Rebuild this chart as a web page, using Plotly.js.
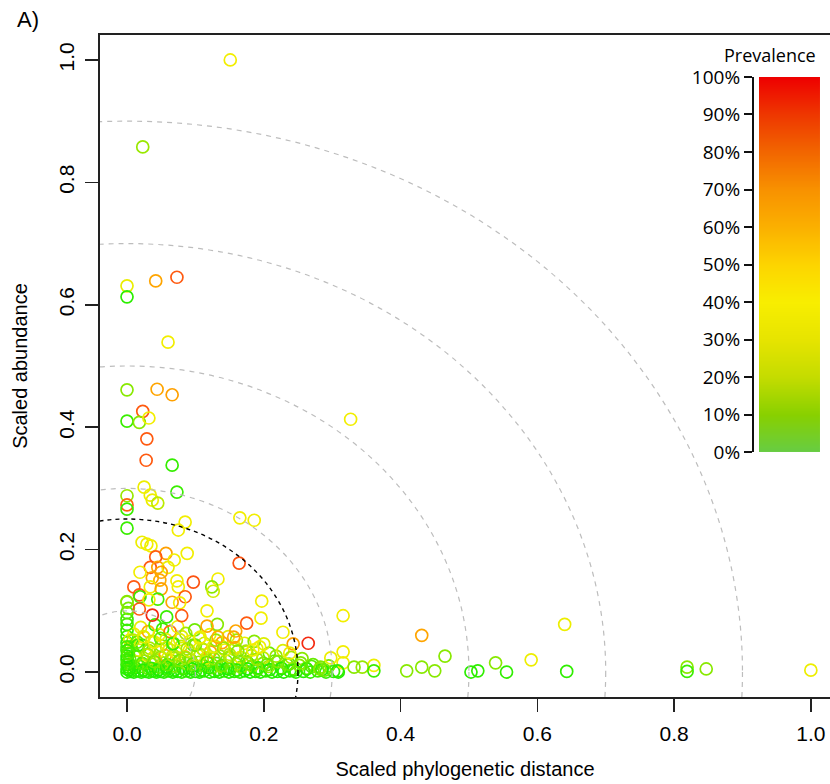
<!DOCTYPE html>
<html>
<head>
<meta charset="utf-8">
<script src="https://cdn.plot.ly/plotly-3.0.1.min.js"></script>
<style>html,body{margin:0;padding:0;background:#fff;}#chart{width:830px;height:784px;}</style>
</head>
<body>
<div id="chart"></div>
<script>
// ---- Data: scaled phylogenetic distance, scaled abundance, prevalence % ----
// dense cluster near the origin
const clusterDist = [
0.000,0.005,0.010,0.016,0.021,0.027,0.032,0.038,0.043,0.049,0.054,0.061,0.067,0.074,0.080,0.087,0.093,0.100,0.106,0.113,0.121,0.128,0.135,0.142,0.149,0.157,0.165,0.172,0.180,0.188,0.195,0.203,0.212,0.220,0.229,0.238,0.247,0.258,0.268,0.279,0.291,0.302,0.309,
0.002,0.008,0.014,0.019,0.025,0.031,0.036,0.042,0.047,0.053,0.058,0.064,0.070,0.075,0.081,0.087,0.093,0.099,0.105,0.111,0.118,0.124,0.131,0.138,0.145,0.152,0.160,0.167,0.175,0.183,0.191,0.199,0.207,0.216,0.225,0.234,0.243,0.252,0.262,0.272,0.283,0.295,
0.001,0.006,0.011,0.017,0.022,0.028,0.033,0.039,0.045,0.050,0.056,0.062,0.068,0.073,0.079,0.085,0.091,0.097,0.103,0.110,0.116,0.122,0.129,0.136,0.143,0.150,0.158,0.166,0.174,0.182,0.190,0.199,0.208,0.218,0.228,0.240,0.256,
0.000,0.000,0.000,0.004,0.010,0.015,0.020,0.025,0.031,0.036,0.041,0.047,0.052,0.057,0.063,0.068,0.074,0.080,0.086,0.092,0.099,0.106,0.113,0.121,0.130,0.139,0.148,0.160,0.172,0.186,0.200,
0.000,0.000,0.000,0.000
];
const clusterAbund = [
0.000,0.001,0.000,0.002,0.000,0.001,0.000,0.002,0.000,0.001,0.000,0.002,0.000,0.001,0.000,0.002,0.000,0.001,0.000,0.002,0.000,0.001,0.000,0.002,0.000,0.001,0.000,0.002,0.000,0.001,0.000,0.002,0.000,0.001,0.000,0.002,0.000,0.001,0.000,0.002,0.000,0.001,0.000,
0.012,0.007,0.016,0.009,0.018,0.006,0.013,0.020,0.008,0.015,0.005,0.019,0.010,0.017,0.006,0.014,0.020,0.008,0.016,0.011,0.019,0.007,0.014,0.009,0.018,0.006,0.013,0.008,0.017,0.010,0.005,0.014,0.009,0.018,0.007,0.012,0.005,0.011,0.006,0.012,0.008,0.010,
0.030,0.041,0.026,0.036,0.044,0.028,0.039,0.024,0.033,0.043,0.027,0.037,0.023,0.031,0.042,0.025,0.035,0.044,0.028,0.038,0.023,0.033,0.042,0.026,0.036,0.029,0.040,0.024,0.034,0.027,0.038,0.023,0.031,0.026,0.035,0.024,0.022,
0.048,0.058,0.068,0.052,0.062,0.049,0.073,0.057,0.066,0.050,0.077,0.061,0.070,0.053,0.066,0.047,0.074,0.058,0.063,0.050,0.069,0.055,0.047,0.061,0.052,0.048,0.058,0.052,0.047,0.050,0.046,
0.078,0.086,0.097,0.115
];
const clusterPrev = [
4,5,3,6,4,5,3,6,4,3,5,6,4,3,5,7,4,5,3,6,4,5,3,7,4,5,6,4,3,5,4,6,5,4,3,6,5,4,7,9,8,6,3,
12,15,18,10,20,14,17,22,12,19,9,21,16,13,18,20,15,11,19,14,22,17,12,20,16,13,21,18,15,19,12,17,20,14,18,16,13,19,15,14,17,16,
10,14,25,30,8,35,22,28,38,18,60,32,20,36,26,55,30,15,34,24,30,62,28,20,35,25,58,32,22,18,36,26,15,20,30,22,18,
6,9,7,30,38,14,34,36,58,26,9,36,8,32,75,12,38,30,22,36,15,34,28,36,20,60,32,22,35,18,30,
10,8,12,18
];
// second, denser layer of the cluster
const layerDist = [
0.003,0.012,0.024,0.035,0.046,0.058,0.069,0.082,0.095,0.108,0.119,0.133,0.147,0.161,0.176,0.192,0.209,0.226,0.244,0.263,0.285,
0.004,0.013,0.022,0.030,0.040,0.049,0.059,0.067,0.077,0.086,0.096,0.107,0.117,0.127,0.139,0.150,0.163,0.177,0.190,0.205,0.221,0.237,0.254,0.270,
0.003,0.009,0.016,0.024,0.032,0.040,0.049,0.058,0.067,0.077,0.088,0.100,0.112,0.126,0.141,0.157,0.175,
0.000,0.000,0.000,0.000,0.000,0.000,0.002,0.002,0.002,0.002
];
const layerAbund = [
0.004,0.007,0.003,0.006,0.004,0.008,0.003,0.006,0.005,0.003,0.007,0.004,0.006,0.003,0.005,0.007,0.004,0.006,0.003,0.005,0.004,
0.021,0.026,0.014,0.029,0.017,0.024,0.012,0.027,0.019,0.023,0.013,0.028,0.016,0.022,0.011,0.025,0.018,0.014,0.021,0.012,0.017,0.013,0.015,0.009,
0.037,0.052,0.044,0.058,0.035,0.049,0.055,0.040,0.046,0.053,0.038,0.044,0.036,0.041,0.039,0.037,0.033,
0.005,0.012,0.020,0.026,0.035,0.041,0.008,0.016,0.030,0.104
];
const layerPrev = [
3,5,4,6,3,5,4,7,3,5,4,6,3,5,4,6,5,4,7,6,5,
14,18,12,22,16,20,13,24,17,21,15,25,12,19,14,22,16,13,20,15,18,14,17,12,
12,24,9,30,20,36,14,28,8,33,22,16,26,34,20,28,24,
5,6,8,4,7,10,5,9,12,16
];
// scattered points away from the origin
const sparseDist = [
0.022,0.029,0.035,0.057,0.042,0.088,0.069,0.164,0.034,0.045,0.060,0.019,0.050,0.037,0.073,0.097,0.133,0.048,0.010,0.034,0.050,0.075,0.124,0.126,0.018,0.019,0.045,0.085,0.032,0.066,0.077,0.000,0.018,0.117,0.197,0.196,0.175,0.037,0.080,0.058,0.132,0.117,0.107,0.159,0.156,0.133,0.228,0.243,0.265,0.194,0.184,0.238,0.162,
0.316,0.431,0.316,0.298,0.316,0.361,0.344,0.332,0.361,0.308,0.409,0.431,0.450,0.282,0.289,
0.465,0.503,0.513,0.539,0.555,0.591,0.640,0.643,0.819,0.819,0.847,1.000,
0.151,0.023,0.000,0.000,0.042,0.073,0.060,0.000,0.044,0.066,0.023,0.000,0.018,0.032,0.029,0.028,0.066,0.327,0.025,0.073,0.000,0.034,0.037,0.045,0.000,0.000,0.000,0.165,0.186,0.085,0.075
];
const sparseAbund = [
0.212,0.209,0.206,0.194,0.188,0.194,0.183,0.178,0.171,0.171,0.171,0.163,0.163,0.154,0.149,0.147,0.152,0.150,0.139,0.139,0.136,0.139,0.139,0.132,0.126,0.123,0.119,0.123,0.118,0.114,0.113,0.114,0.103,0.100,0.116,0.088,0.080,0.093,0.092,0.090,0.078,0.075,0.057,0.067,0.057,0.057,0.065,0.046,0.047,0.041,0.036,0.031,0.034,
0.092,0.060,0.033,0.023,0.015,0.011,0.008,0.008,0.002,0.002,0.002,0.008,0.002,0.005,0.003,
0.026,0.000,0.002,0.015,0.000,0.020,0.078,0.001,0.008,0.001,0.005,0.003,
1.000,0.858,0.631,0.613,0.639,0.645,0.539,0.461,0.462,0.453,0.426,0.410,0.408,0.415,0.381,0.346,0.338,0.413,0.302,0.294,0.288,0.289,0.281,0.276,0.273,0.266,0.235,0.252,0.248,0.245,0.232
];
const sparsePrev = [
36,38,37,62,80,38,38,82,80,60,36,38,62,60,38,82,38,58,80,38,62,38,18,28,80,8,10,80,38,60,38,18,80,38,38,38,80,92,80,8,18,60,36,60,60,58,38,62,92,36,38,36,18,
38,60,38,36,38,36,20,18,8,5,18,18,18,18,15,
18,5,6,18,6,36,36,6,18,8,18,36,
38,20,35,5,60,80,38,18,60,62,80,8,18,38,80,80,7,38,36,8,20,36,36,25,78,8,8,38,38,38,38
];

// reference rings and legend ticks
const ringRadii = [0.1, 0.3, 0.5, 0.7, 0.9];
const thresholdRadius = 0.25;
const axisTicks = [0, 0.2, 0.4, 0.6, 0.8, 1.0];
const prevalenceTicks = [0,10,20,30,40,50,60,70,80,90,100];
const prevalenceTickText = prevalenceTicks.map(v => v + '%');

// colour scales
const pointScale = [[0,'#11ee00'],[0.1,'#44ee00'],[0.2,'#99e800'],[0.3,'#dcee00'],[0.4,'#f8ee00'],[0.5,'#ffcc00'],[0.6,'#ffa500'],[0.7,'#ff8a00'],[0.8,'#ff5a10'],[0.9,'#f53010'],[1,'#ee1111']];
const legendScale = [[0,'#66cc44'],[0.1,'#88d000'],[0.2,'#c4dc00'],[0.3,'#e6e400'],[0.4,'#f8ee00'],[0.5,'#fdd500'],[0.6,'#fbb000'],[0.7,'#f89200'],[0.8,'#f26600'],[0.9,'#ee3800'],[1,'#ee0000']];

const xs = clusterDist.concat(layerDist, sparseDist);
const ys = clusterAbund.concat(layerAbund, sparseAbund);
const cs = clusterPrev.concat(layerPrev, sparsePrev);

const FONT = 'Liberation Sans, Arial, Helvetica, sans-serif';
const LFONT = 'Open Sans, Noto Sans, sans-serif';

const points = {
  type: 'scatter', mode: 'markers', x: xs, y: ys,
  marker: {symbol: 'circle-open', size: 12, color: cs, cmin: 0, cmax: 100,
           colorscale: pointScale, showscale: false, line: {width: 1.7}},
  hoverinfo: 'skip', showlegend: false
};

const legendBar = {
  type: 'heatmap', xaxis: 'x2', yaxis: 'y2',
  x: [0, 1], y: prevalenceTicks,
  z: prevalenceTicks.map(v => [v, v]),
  zmin: 0, zmax: 100, zsmooth: 'best',
  colorscale: legendScale, showscale: false, hoverinfo: 'skip'
};

const shapes = [];
ringRadii.forEach(r => shapes.push({type: 'circle', xref: 'x', yref: 'y', x0: -r, x1: r, y0: -r, y1: r,
  line: {color: '#bdbdbd', width: 1.2, dash: '5px,5px'}}));
shapes.push({type: 'circle', xref: 'x', yref: 'y', x0: -thresholdRadius, x1: thresholdRadius,
  y0: -thresholdRadius, y1: thresholdRadius, line: {color: '#000', width: 1.4, dash: '4px,4px'}});

const layout = {
  width: 830, height: 784,
  margin: {l: 100, r: 0, t: 35, b: 87},
  paper_bgcolor: '#fff', plot_bgcolor: '#fff',
  font: {family: FONT, color: '#000'},
  xaxis: {range: [-0.0395, 1.028], tickvals: axisTicks, tickformat: '.1f',
    showgrid: false, zeroline: false, showline: true, mirror: true, linecolor: '#222', linewidth: 2,
    ticks: 'outside', ticklen: 13, tickwidth: 1.5, tickcolor: '#222',
    tickfont: {size: 21, family: FONT}, ticklabelstandoff: 4,
    title: {text: 'Scaled phylogenetic distance', font: {size: 20, family: FONT}, standoff: 18}},
  yaxis: {range: [-0.0408, 1.0408], tickvals: axisTicks, tickformat: '.1f', tickangle: -90,
    showgrid: false, zeroline: false, showline: true, linecolor: '#222', linewidth: 2,
    ticks: 'outside', ticklen: 13, tickwidth: 1.5, tickcolor: '#222',
    tickfont: {size: 21, family: FONT}, ticklabelstandoff: 3,
    title: {text: 'Scaled abundance', font: {size: 20, family: FONT}, standoff: 22}},
  xaxis2: {domain: [0.9027, 0.9863], range: [0, 1], anchor: 'y2', visible: false, fixedrange: true},
  yaxis2: {domain: [0.370, 0.9366], range: [0, 100], anchor: 'free', position: 0.8945, side: 'left',
    tickvals: prevalenceTicks, ticktext: prevalenceTickText,
    showgrid: false, zeroline: false, showline: true, linecolor: '#111', linewidth: 2,
    ticks: 'outside', ticklen: 8, tickwidth: 2, tickcolor: '#111',
    tickfont: {size: 19, family: LFONT}},
  shapes: shapes,
  annotations: [
    {text: 'A)', xref: 'paper', yref: 'paper', x: -0.0986, y: 1.0227, showarrow: false,
     xanchor: 'center', yanchor: 'middle', font: {size: 22, family: FONT}},
    {text: 'Prevalence', xref: 'paper', yref: 'paper', x: 0.918, y: 0.97, showarrow: false,
     xanchor: 'center', yanchor: 'middle', font: {size: 18, family: LFONT}}
  ]
};

Plotly.newPlot('chart', [points, legendBar], layout, {displayModeBar: false, staticPlot: true});
</script>
</body>
</html>
